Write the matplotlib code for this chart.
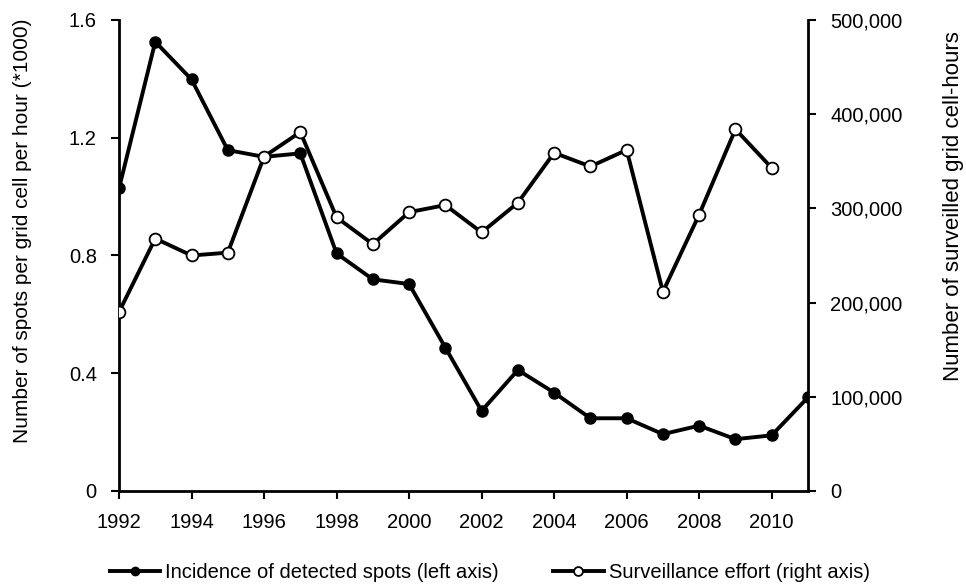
import matplotlib
matplotlib.use("Agg")
import matplotlib.pyplot as plt
from matplotlib.ticker import FuncFormatter

plt.rcParams['font.family'] = ['Liberation Sans', 'DejaVu Sans']

years = list(range(1992, 2012))
incidence = [1.028, 1.526, 1.398, 1.158, 1.135, 1.147, 0.807, 0.719, 0.703, 0.487,
             0.272, 0.411, 0.334, 0.247, 0.247, 0.193, 0.222, 0.176, 0.189, 0.318]
effort_years = list(range(1992, 2011))
effort = [190000, 268000, 250000, 253000, 355000, 381000, 290500, 262000, 296000, 303500,
          274500, 306000, 359000, 344500, 362000, 211500, 293500, 384000, 343000]

left_ticks = [0, 0.4, 0.8, 1.2, 1.6]
right_ticks = [0, 100000, 200000, 300000, 400000, 500000]
x_ticks = list(range(1992, 2011, 2))

fig = plt.figure(figsize=(9.66, 5.88), dpi=100)
ax = fig.add_axes([0.1232, 0.165, 0.7132, 0.801])
ax2 = ax.twinx()

l1, = ax.plot(years, incidence, color='black', lw=2.8, marker='o', ms=8,
              mfc='black', mec='black', zorder=3,
              label='Incidence of detected spots (left axis)')
l2, = ax2.plot(effort_years, effort, color='black', lw=2.8, marker='o', ms=8.5,
               mfc='white', mec='black', mew=1.3, zorder=3,
               label='Surveillance effort (right axis)')

ax.set_xlim(1992, 2011)
ax.set_ylim(0, 1.6)
ax2.set_ylim(0, 500000)
ax.set_xticks(x_ticks)
ax.set_yticks(left_ticks)
ax.yaxis.set_major_formatter(FuncFormatter(lambda v, p: '0' if v == 0 else f'{v:.1f}'))
ax2.set_yticks(right_ticks)
ax2.yaxis.set_major_formatter(FuncFormatter(lambda v, p: f'{int(v):,}'))

for a in (ax, ax2):
    a.spines['top'].set_visible(False)
    for s in a.spines.values():
        s.set_linewidth(2)
    a.tick_params(direction='out', length=6, width=1.5, labelsize=14.5, pad=10)
ax.spines['right'].set_visible(False)
ax2.spines['left'].set_visible(False)
ax2.spines['bottom'].set_visible(False)
ax.tick_params(axis='x', pad=10)

ax.set_ylabel('Number of spots per grid cell per hour (*1000)', fontsize=15)
ax.yaxis.set_label_coords(-0.1263, 0.552)
ax2.set_ylabel('Number of surveilled grid cell-hours', fontsize=16)
ax2.yaxis.set_label_coords(1.196, 0.605)

fig.legend(handles=[l1, l2], loc='lower center', bbox_to_anchor=(0.507, -0.02), ncol=2,
           frameon=False, fontsize=14.5,
           handlelength=2.5, handletextpad=0.25,
           columnspacing=2.7, markerscale=0.75)

fig.savefig('out.png', dpi=100)
